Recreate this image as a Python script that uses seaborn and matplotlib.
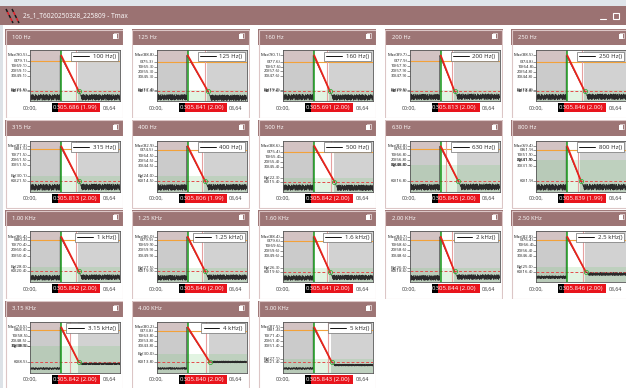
import numpy as np
import pandas as pd
import matplotlib
matplotlib.use("Agg")
import matplotlib.pyplot as plt
import seaborn as sns
from matplotlib.patches import Rectangle
from matplotlib.transforms import blended_transform_factory

sns.set_theme(style="white")
plt.rcParams["font.family"] = ["Open Sans", "DejaVu Sans"]

# ---------------- data ----------------
window_title = "2s_1_T6020250328_225809 - Tmax"

band_titles = ["100 Hz", "125 Hz", "160 Hz", "200 Hz", "250 Hz",
               "315 Hz", "400 Hz", "500 Hz", "630 Hz", "800 Hz",
               "1.00 KHz", "1.25 KHz", "1.60 KHz", "2.00 KHz", "2.50 KHz",
               "3.15 KHz", "4.00 KHz", "5.00 KHz"]

series_names = ["100 Hz()", "125 Hz()", "160 Hz()", "200 Hz()", "250 Hz()",
                "315 Hz()", "400 Hz()", "500 Hz()", "630 Hz()", "800 Hz()",
                "1 kHz()", "1.25 kHz()", "1.6 kHz()", "2 kHz()", "2.5 kHz()",
                "3.15 kHz()", "4 kHz()", "5 kHz()"]

cursor_readouts = ["0305.686 (1.99)", "0305.841 (2.00)", "0305.691 (2.00)", "0305.813 (2.00)", "0305.846 (2.00)",
                   "0305.813 (2.00)", "0305.806 (1.99)", "0305.842 (2.00)", "0305.845 (2.00)", "0305.839 (1.99)",
                   "0305.842 (2.00)", "0305.846 (2.00)", "0305.841 (2.00)", "0305.844 (2.00)", "0305.846 (2.00)",
                   "0305.842 (2.00)", "0305.840 (2.00)", "0305.843 (2.00)"]

# levels in dB
max_level = [90.5, 88.8, 90.1, 89.7, 88.5, 87.3, 82.9, 88.6, 82.8, 69.4,
             86.4, 86.0, 88.4, 84.7, 82.8, 74.5, 80.2, 87.5]
ref_level = [79.1, 75.3, 77.6, 77.9, 74.8, 81.5, 74.5, 75.4, 76.8, 61.9,
             80.4, 79.9, 79.6, 78.6, 76.4, 68.5, 73.8, 81.4]
t60_level = [19.1, 15.3, 17.6, 17.9, 14.8, 21.5, 14.5, 15.4, 16.8, 1.9,
             20.4, 19.9, 19.6, 18.6, 16.4, 8.5, 13.8, 21.4]
bg_level = [21.6, 17.4, 19.2, 20.5, 18.3, 30.1, 24.0, 22.3, 48.0, 41.9,
            28.0, 27.5, 26.3, 26.0, 25.0, 38.5, 30.0, 27.1]
floor_before = [6.5, 3.0, 5.5, 6.0, 3.0, 9.5, 2.5, 3.5, 5.0, -10.0,
                8.5, 8.0, 7.5, 6.5, 5.5, -4.0, 1.5, 9.0]
floor_after = [6.5, 2.0, 5.0, 6.5, 3.5, 10.0, 3.0, 3.0, 5.5, -9.5,
               9.5, 9.0, 8.5, 8.0, 11.5, 5.0, 14.0, 15.5]
noise_depth = [6, 6, 6, 6, 6, 6, 6, 6, 6, 6,
               5, 5, 5, 5, 3, 2, 2, 2]

# times in seconds
decay_start = [3.4] * 18
decay_end = [5.3, 5.6, 5.1, 4.9, 5.3, 5.3, 5.3, 5.6, 5.3, 4.9,
             5.3, 5.3, 5.1, 4.9, 5.4, 5.3, 5.8, 5.3]
marker_time = [5.0, 5.3, 4.8, 4.6, 5.0, 5.0, 4.9, 5.2, 4.0, 4.6,
               5.0, 5.0, 4.8, 4.6, 5.1, 4.4, 5.4, 4.9]
time_ticks = [0.0, 8.64]
time_tick_labels = ["00:00,", "08,64"]
level_names = ["Max", "0", "10", "20", "30", "Bg", "60"]

# recurring noise ripple of the measured floor (normalised)
ripple = [0.8, -0.6, 0.3, -1.0, 0.9, -0.2, 0.5, -0.9, 1.0, -0.4,
          0.1, -0.8, 0.7, -0.3, 0.9, -1.0, 0.4, -0.6, 0.2, -0.9,
          1.0, -0.5, 0.6, -0.1, 0.8, -0.7, 0.3, -1.0, 0.5, -0.3,
          0.9, -0.8, 0.2, -0.5, 0.7, -0.9, 0.4, -0.2, 1.0, -0.6,
          -0.7, 0.6, -0.2, 0.9, -1.0, 0.3, -0.5, 0.8, -0.4, 1.0, -0.9]

# ---------------- layout ----------------
W, H = 626, 388
col_left = [5, 131.5, 258, 384.5, 511]
row_top = [29, 119.5, 210, 300.5]
PANEL_W, PANEL_H, HEAD_H = 118, 89, 16
PLOT_X, PLOT_Y, PLOT_W, PLOT_H = 25, 21, 90, 51
T_MAX = 9.8

HEAD_COLOR = "#9d7575"
BAR_COLOR = "#9b7272"
BORDER_COLOR = "#dcc6c6"


def px_rect(x, y, w, h):
    return [x / W, 1 - (y + h) / H, w / W, h / H]


fig = plt.figure(figsize=(W / 100, H / 100), dpi=100)
fig.patch.set_facecolor("white")

# window chrome
bg_ax = fig.add_axes([0, 0, 1, 1])
bg_ax.set_xlim(0, W)
bg_ax.set_ylim(H, 0)
bg_ax.axis("off")
bg_ax.add_patch(Rectangle((0, 0), W, 6, color="#dfe5ea", lw=0))
bg_ax.add_patch(Rectangle((0, 6), W, 19, color=BAR_COLOR, lw=0))
bg_ax.add_patch(Rectangle((0, 25), 2.5, H - 25, color="#dde2e7", lw=0))
for x0 in (6, 12):
    bg_ax.plot([x0, x0 + 7], [9, 23], color="#1a1a1a", lw=1.1,
               dashes=(2.2, 2.2), solid_capstyle="butt")
    bg_ax.plot([x0, x0 + 7], [9, 23], color="#e0202a", lw=1.1,
               dashes=(0, 2.2, 2.2, 0), solid_capstyle="butt")
bg_ax.text(23, 16, window_title, color="white", fontsize=4.7, va="center", ha="left")
bg_ax.plot([600, 606], [18.5, 18.5], color="white", lw=0.8)
bg_ax.add_patch(Rectangle((613, 12.5), 6, 6, fill=False, ec="white", lw=0.8))

for i in range(len(band_titles)):
    r, c = divmod(i, 5)
    left, top = col_left[c], row_top[r]

    # panel frame and header
    pax = fig.add_axes(px_rect(left, top, PANEL_W, PANEL_H))
    pax.set_xlim(0, PANEL_W)
    pax.set_ylim(PANEL_H, 0)
    pax.axis("off")
    pax.add_patch(Rectangle((0, 0), PANEL_W, HEAD_H, color=HEAD_COLOR, lw=0))
    pax.text(7, HEAD_H / 2 + 0.3, band_titles[i], color="white", fontsize=4.2,
             va="center", ha="left")
    pax.add_patch(Rectangle((PANEL_W - 10.5, 5.2), 4.2, 5.2, fc="white", lw=0))
    pax.add_patch(Rectangle((PANEL_W - 9.5, 4.2), 4.2, 5.2, fc="none", ec="white", lw=0.4))
    pax.add_patch(Rectangle((0.5, 0.5), PANEL_W - 1, PANEL_H - 1, fill=False,
                            ec=BORDER_COLOR, lw=0.8))

    # chart area
    ax = fig.add_axes(px_rect(left + PLOT_X, top + PLOT_Y, PLOT_W, PLOT_H))
    mx, l0, l60, bg = max_level[i], ref_level[i], t60_level[i], bg_level[i]
    t0, te, tm = decay_start[i], decay_end[i], marker_time[i]
    y_top, y_bot = mx + 11, l60 - 20
    ax.set_xlim(0, T_MAX)
    ax.set_ylim(y_bot, y_top)
    ax.set_facecolor("white")

    ax.axvspan(0, t0, color="#cbcbcb", lw=0, zorder=0.1)
    ax.axvspan(te - 0.1, T_MAX, color="#d2d2d2", lw=0, zorder=0.1)
    ax.fill_between([0, t0], l0, y_top, color="#d3c3c3", lw=0, zorder=0.2)
    ax.axhspan(y_bot, bg, color="#6fc86f", alpha=0.2, lw=0, zorder=0.3)

    ax.axhline(l0, color="#f2a23a", lw=0.8, zorder=1)
    ax.axhline(l60, color="#e24a4a", lw=0.7, dashes=(3, 2), zorder=1)
    ax.axvline(tm, color="#e6a0a0", lw=0.8, zorder=1)

    # measured level trace
    amp = noise_depth[i]
    t_pre = np.linspace(0, t0 - 0.12, 110)
    t_post = np.linspace(te + 0.3, T_MAX, 150)
    lv_pre = floor_before[i] + amp * np.resize(ripple, t_pre.size)
    lv_post = floor_after[i] + amp * np.resize(ripple, t_post.size)
    trace = pd.DataFrame({
        "time": np.concatenate([t_pre, [t0 - 0.12, t0 - 0.12, te, te + 0.3], t_post]),
        "level": np.concatenate([lv_pre, [floor_before[i], mx, l60, floor_after[i]], lv_post]),
    })
    sns.lineplot(data=trace, x="time", y="level", ax=ax, color="#2a2a2a",
                 linewidth=0.4, sort=False, estimator=None,
                 label=series_names[i], zorder=2)

    ax.axvline(t0, color="#17991a", lw=1.1, zorder=2.5)
    ax.plot([t0, te], [mx, l60], color="#e8231c", lw=1.3, zorder=3,
            solid_capstyle="round")
    ax.plot([te], [l60], marker="o", ms=3, mfc="none", mec="#3cab3c",
            mew=0.6, zorder=3.5)

    ax.set_xlabel("")
    ax.set_ylabel("")
    levels = [mx, l0, l0 - 10, l0 - 20, l0 - 30, bg, l60]
    ax.set_xticks([])
    ax.set_yticks(levels)
    ax.set_yticklabels([])
    ax.tick_params(axis="y", left=True, length=2, width=0.4, color="#444444")
    for s in ax.spines.values():
        s.set_color("#555555")
        s.set_linewidth(0.6)

    leg = ax.legend(loc="upper right", fontsize=4.4, handlelength=2.6,
                    handletextpad=0.6, borderpad=0.35, borderaxespad=0.3,
                    frameon=True, fancybox=False, framealpha=1,
                    edgecolor="#707070")
    leg.get_frame().set_linewidth(0.5)
    for ln in leg.get_lines():
        ln.set_linewidth(0.7)
        ln.set_color("#111111")
    leg.set_zorder(6)

    # level labels, clipped by the panel edge
    ytrans = blended_transform_factory(pax.transData, ax.transData)
    for name, lv in zip(level_names, levels):
        pax.text(PLOT_X - 2.5, lv, f"{name}({lv:.1f})", transform=ytrans,
                 ha="right", va="center", fontsize=3.2, color="#222222",
                 clip_on=True)

    # time labels and cursor readout
    xtrans = blended_transform_factory(ax.transData, pax.transData)
    for tt, tl in zip(time_ticks, time_tick_labels):
        pax.text(tt, 79, tl, transform=xtrans, ha="center", va="center",
                 fontsize=3.8, color="#333333")
    pax.add_patch(Rectangle((47, 74), 6, 9, fc="black", lw=0, zorder=3))
    pax.add_patch(Rectangle((53, 74), 42, 9, fc="#e8141c", lw=0, zorder=3))
    pax.text(48, 78.7, cursor_readouts[i], color="white", fontsize=4.4,
             va="center", ha="left", zorder=4)

fig.savefig("out.png", dpi=100, facecolor="white")
